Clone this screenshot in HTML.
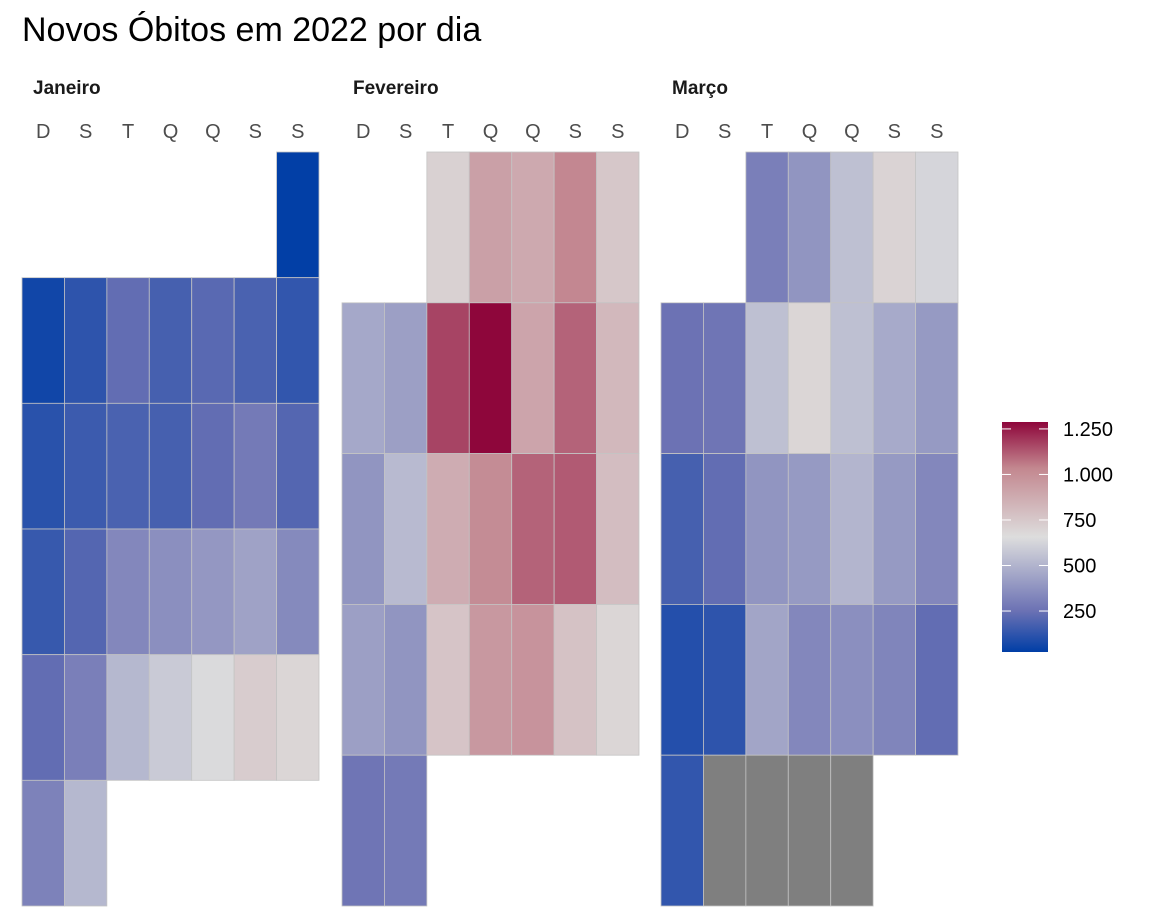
<!DOCTYPE html>
<html><head><meta charset="utf-8">
<style>
html,body{margin:0;padding:0;background:#fff;}
svg{display:block;font-family:"Liberation Sans",Arial,sans-serif;}
</style></head>
<body>
<svg id="chart" width="1152" height="921" viewBox="0 0 1152 921">
<text x="22" y="41" font-size="34" fill="#000">Novos Óbitos em 2022 por dia</text>
<defs>
<linearGradient id="lg" x1="0" y1="1" x2="0" y2="0">
<stop offset="0" stop-color="#003EA6"/>
<stop offset="0.18" stop-color="#6C72B4"/>
<stop offset="0.5" stop-color="#DDDDDD"/>
<stop offset="0.8" stop-color="#C3878F"/>
<stop offset="1" stop-color="#8E063B"/>
</linearGradient>
</defs>
<g id="panels"></g>
<g id="legend"></g>
</svg>
<script>
const monthNames = ["Janeiro","Fevereiro","Março"];
const dayLabels = ["D","S","T","Q","Q","S","S"];
const firstWeekday = [6,2,2];
const janValues = [30,60,120,230,170,210,180,130,110,150,180,170,230,280,200,140,200,330,360,390,430,340,230,300,510,580,640,720,680,310,510];
const febValues = [700,900,860,1000,740,450,420,1150,1290,880,1080,800,380,520,850,980,1080,1100,780,420,380,750,930,950,760,680,260,280];
const marValues = [300,380,540,690,620,250,260,540,680,540,460,400,170,230,380,400,500,400,330,100,120,440,330,360,320,230,130,null,null,null,null];
const legendTicks = [250,500,750,1000,1250];

const vMin=25, vMax=1288;
const stops=[[25,[0,62,166]],[250,[108,114,180]],[650,[221,221,221]],[1000,[195,135,145]],[1288,[142,6,59]]];
function color(v){
  if(v===null) return "#7F7F7F";
  if(v<=stops[0][0]) return "rgb("+stops[0][1]+")";
  for(let i=1;i<stops.length;i++){
    if(v<=stops[i][0]||i===stops.length-1){
      const a=stops[i-1],b=stops[i];
      let t=(v-a[0])/(b[0]-a[0]); t=Math.max(0,Math.min(1,t));
      const c=a[1].map((x,k)=>Math.round(x+(b[1][k]-x)*t));
      return "rgb("+c.join(",")+")";
    }
  }
}
const NS="http://www.w3.org/2000/svg";
const panels=document.getElementById("panels");
const allValues=[janValues,febValues,marValues];
const panelX=[22,342,661], panelW=297, gridTop=152, gridBottom=906;
allValues.forEach((vals,m)=>{
  const g=document.createElementNS(NS,"g");
  
  
  panels.appendChild(g);
  const cw=panelW/7;
  const nWeeks=Math.ceil((vals.length+firstWeekday[m])/7);
  const rh=(gridBottom-gridTop)/nWeeks;
  const t=document.createElementNS(NS,"text");
  
  
  t.setAttribute("x",panelX[m]+11);t.setAttribute("y",94);
  t.setAttribute("font-size","19");t.setAttribute("font-weight","bold");t.setAttribute("fill","#1a1a1a");
  t.textContent=monthNames[m];g.appendChild(t);
  dayLabels.forEach((d,i)=>{
    const l=document.createElementNS(NS,"text");
    
    
    l.setAttribute("x",panelX[m]+cw*(i+0.5));l.setAttribute("y",138);
    l.setAttribute("font-size","20");l.setAttribute("fill","#4d4d4d");l.setAttribute("text-anchor","middle");
    l.textContent=d;g.appendChild(l);
  });
  vals.forEach((v,i)=>{
    const p=i+firstWeekday[m];
    const col=p%7,row=Math.floor(p/7);
    const r=document.createElementNS(NS,"rect");
    
    
    r.setAttribute("x",panelX[m]+col*cw);r.setAttribute("y",gridTop+row*rh);
    r.setAttribute("width",cw);r.setAttribute("height",rh);
    r.setAttribute("fill",color(v));r.setAttribute("stroke","#c4c4c4");r.setAttribute("stroke-width","0.8");
    g.appendChild(r);
  });
});
const lg=document.getElementById("legend");
const ly0=422, ly1=652;
function ly(v){return ly1-(v-vMin)/(vMax-vMin)*(ly1-ly0);}
const bar=document.createElementNS(NS,"rect");


bar.setAttribute("x",1002);bar.setAttribute("y",ly0);bar.setAttribute("width",46);bar.setAttribute("height",ly1-ly0);
bar.setAttribute("fill","url(#lg)");lg.appendChild(bar);
legendTicks.forEach(v=>{
  const y=ly(v);
  [[1002,1011],[1039,1048]].forEach(([a,b])=>{
    const ln=document.createElementNS(NS,"line");
    
    
    ln.setAttribute("x1",a);ln.setAttribute("x2",b);ln.setAttribute("y1",y);ln.setAttribute("y2",y);
    ln.setAttribute("stroke","#fff");ln.setAttribute("stroke-width","1");lg.appendChild(ln);
  });
  const tx=document.createElementNS(NS,"text");
  
  
  tx.setAttribute("x",1063);tx.setAttribute("y",y+7);tx.setAttribute("font-size","20");tx.setAttribute("fill","#000");
  tx.textContent=v>=1000?(Math.floor(v/1000)+"."+String(v%1000).padStart(3,"0")):String(v);
  lg.appendChild(tx);
});
</script>
</body></html>
